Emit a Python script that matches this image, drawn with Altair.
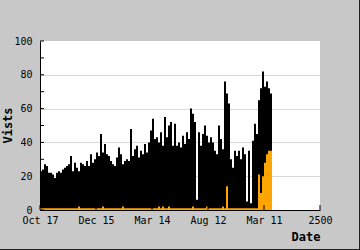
import altair as alt
import pandas as pd

# Daily visits (black bars), read left to right, one value per 2-pixel slot
VISITS = [
    23, 24, 27, 26, 22, 22, 21, 19, 22, 23,
    22, 24, 25, 26, 27, 32, 23, 28, 25, 23,
    28, 27, 26, 29, 26, 33, 28, 30, 34, 32,
    45, 34, 39, 33, 32, 29, 27, 26, 31, 37,
    33, 27, 29, 30, 29, 48, 32, 36, 38, 31,
    35, 33, 39, 34, 40, 47, 54, 42, 43, 40,
    46, 38, 55, 43, 50, 52, 38, 51, 38, 40,
    37, 44, 39, 46, 42, 60, 57, 52, 6, 46,
    38, 45, 50, 44, 40, 43, 40, 35, 33, 50,
    42, 36, 76, 69, 63, 30, 25, 35, 32, 35,
    30, 37, 33, 5, 35, 4, 41, 51, 45, 65,
    72, 82, 73, 76, 72, 69,
]

# Second series (orange bars)
OTHER = [
    1, 1, 1, 1, 1, 1, 1, 1, 1, 1,
    1, 1, 1, 1, 1, 1, 1, 1, 1, 2,
    1, 1, 1, 1, 1, 1, 1, 1, 1, 1,
    1, 2, 1, 1, 1, 1, 1, 1, 1, 1,
    1, 2, 1, 1, 1, 1, 1, 1, 1, 1,
    1, 1, 1, 1, 1, 1, 1, 1, 1, 2,
    1, 2, 1, 1, 2, 1, 1, 1, 1, 1,
    1, 1, 1, 1, 1, 1, 2, 1, 1, 1,
    1, 1, 1, 2, 1, 1, 1, 1, 1, 1,
    1, 2, 1, 14, 1, 1, 1, 1, 1, 1,
    1, 1, 1, 1, 1, 1, 1, 1, 1, 21,
    10, 20, 28, 33, 35, 35,
]

X_TICKS = [0, 500, 1000, 1500, 2000, 2500]
X_LABELS = ["Oct 17", "Dec 15", "Mar 14", "Aug 12", "Mar 11", "2500"]
Y_LABEL_VALUES = [0, 20, 40, 60, 80, 100]
Y_TICK_VALUES = [0, 10, 20, 30, 40, 50, 60, 70, 80, 90, 100]

X_MAX = 2500
SLOT = X_MAX / 140  # width of one bar in x units

n = len(VISITS)
df = pd.DataFrame({
    "start": [i * SLOT for i in range(n)],
    "end": [(i + 1) * SLOT for i in range(n)],
    "visits": VISITS,
    "other": OTHER,
})

FONT = "DejaVu Sans Mono"

label_expr = ""
for v, l in zip(X_TICKS, X_LABELS):
    label_expr += f"datum.value == {v} ? '{l}' : "
label_expr += "''"

x_scale = alt.Scale(domain=[0, X_MAX], nice=False, zero=False)
y_scale = alt.Scale(domain=[0, 100], nice=False)

x_axis = alt.Axis(
    values=X_TICKS, labelExpr=label_expr, ticks=False, grid=False,
    domainColor="black", labelColor="black", labelFont=FONT, labelFontSize=10,
    labelPadding=5, labelFlush=False, labelOverlap=False,
    title="Date", titleFont=FONT, titleFontSize=12, titleFontWeight="bold",
    titleColor="black", titleAlign="right", titleAnchor="end",
    titleX=280, titleY=30, titleBaseline="alphabetic",
)
y_axis = alt.Axis(
    values=Y_LABEL_VALUES, ticks=False, grid=True, gridColor="#d8d8d8",
    gridOpacity={"condition": {"test": "datum.value > 0 && datum.value < 100", "value": 1}, "value": 0},
    domainColor="black", labelColor="black", labelFont=FONT, labelFontSize=10,
    labelPadding=8, labelFlush=False,
    title="Vists", titleFont=FONT, titleFontSize=12, titleFontWeight="bold",
    titleColor="black", titleAngle=-90, titleAlign="center", titleBaseline="bottom",
    titleX=-26, titleY=84,
)

base = alt.Chart(df)

black = base.mark_bar(color="black").encode(
    x=alt.X("start:Q", scale=x_scale, axis=x_axis),
    x2="end:Q",
    y=alt.Y("visits:Q", scale=y_scale, axis=y_axis),
    y2=alt.datum(0),
)

orange = base.mark_bar(color="#ffa500").encode(
    x=alt.X("start:Q", scale=x_scale, axis=x_axis),
    x2="end:Q",
    y=alt.Y("other:Q", scale=y_scale, axis=y_axis),
    y2=alt.datum(0),
)

ytick_df = pd.DataFrame({"v": Y_TICK_VALUES})
yticks = alt.Chart(ytick_df).mark_rule(color="black", strokeWidth=1).encode(
    y=alt.Y("v:Q", scale=y_scale, axis=y_axis),
    x=alt.value(0),
    x2=alt.value(4),
)

xtick_df = pd.DataFrame({"v": X_TICKS})
xticks = alt.Chart(xtick_df).mark_rule(color="black", strokeWidth=1).encode(
    x=alt.X("v:Q", scale=x_scale, axis=x_axis),
    y=alt.value(169),
    y2=alt.value(164),
)

one = pd.DataFrame({"a": [0]})
right_border = alt.Chart(one).mark_rule(color="#222", strokeWidth=1).encode(
    x=alt.value(319.5), y=alt.value(-41), y2=alt.value(209),
)
bottom_border = alt.Chart(one).mark_rule(color="#222", strokeWidth=1).encode(
    y=alt.value(208.5), x=alt.value(-40), x2=alt.value(320),
)

chart = alt.layer(black, orange, yticks, xticks, right_border, bottom_border).properties(
    width=280, height=169,
    padding={"left": 40, "top": 41, "right": 40, "bottom": 40},
    autosize=alt.AutoSizeParams(type="none"),
    background="#c8c8c8",
).configure_view(fill="white", stroke=None)

chart.save("out.html", embed_options={"renderer": "svg", "actions": False})
